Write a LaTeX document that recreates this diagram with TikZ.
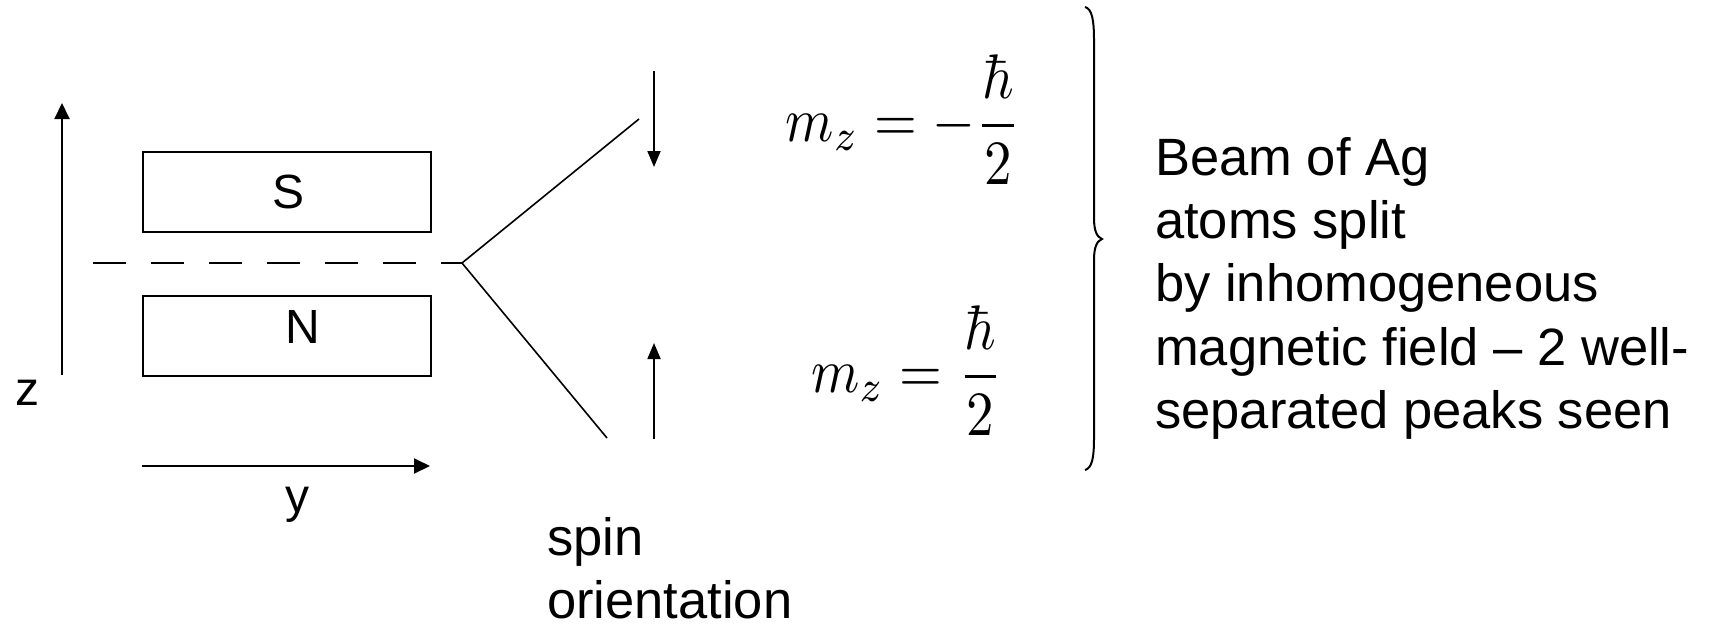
\documentclass[tikz,border=0pt]{standalone}
\usepackage[no-math]{fontspec}
\usepackage{graphicx}
\setmainfont{Liberation Sans}
\usetikzlibrary{arrows.meta}
\tikzset{
  magnet/.style={draw, line width=2pt, minimum width=288pt, minimum height=80pt, inner sep=0pt, anchor=north west},
  lbl/.style={font=\fontsize{48}{48}\selectfont, inner sep=0pt, anchor=base},
  txt/.style={font=\fontsize{52.5}{63.3}\selectfont, inner sep=0pt, align=left, anchor=north west},
  eq/.style={inner sep=0pt, anchor=base},
  axisarrow/.style={-{Triangle[length=16pt,width=15pt]}, line width=2pt},
  spinarrow/.style={-{Triangle[length=16pt,width=13pt]}, line width=1.8pt},
  beam/.style={line width=1.6pt},
  beamdash/.style={line width=1.6pt, dash pattern=on 33pt off 25pt},
}
\begin{document}
\begin{tikzpicture}[x=1pt, y=-1pt]
\useasboundingbox (0,0) rectangle (1716,626);
% axes
\coordinate (z0) at (62,375);
\coordinate (z1) at (62,103);
\coordinate (y0) at (142,466);
\coordinate (y1) at (430,466);
\draw[axisarrow] (z0) -- (z1);
\draw[axisarrow] (y0) -- (y1);
\node[lbl] (zl) at (27,405) {z};
\node[lbl] (yl) at (297,512) {y};
% magnets
\node[magnet] (S) at (142,151) {};
\node[magnet] (N) at (142,295) {};
\node[lbl] (Sl) at (289,208) {S};
\node[lbl] (Nl) at (303,343) {N};
% beam
\coordinate (b0) at (93,263);
\coordinate (J) at (462,263);
\coordinate (U) at (639,119);
\coordinate (L) at (607,438);
\draw[beamdash] (b0) -- (J);
\draw[beam] (U) -- (J) -- (L);
% spin arrows
\coordinate (d0) at (654,71);
\coordinate (d1) at (654,167);
\coordinate (u0) at (654,439);
\coordinate (u1) at (654,343);
\draw[spinarrow] (d0) -- (d1);
\draw[spinarrow] (u0) -- (u1);
% equations
\node[eq] (eq1) at (903,141) {\scalebox{5.5}[6.3]{$\displaystyle m_z = -\frac{\hbar}{2}$}};
\node[eq] (eq2) at (907,392) {\scalebox{5.5}[6.3]{$\displaystyle m_z = \frac{\hbar}{2}$}};
% brace
\draw[line width=2pt] (1085,7) .. controls (1092,9) and (1094,20) .. (1094,40)
  -- (1094,218) .. controls (1094,231) and (1097,237) .. (1102,239)
  .. controls (1097,241) and (1094,247) .. (1094,260)
  -- (1094,438) .. controls (1094,458) and (1092,468) .. (1085,470);
% texts
\node[txt] (desc) at (1155,137) {Beam of Ag\\atoms split\\by inhomogeneous\\magnetic field – 2 well-\\separated peaks seen};
\node[txt] (spin) at (547,517) {spin\\orientation};
\end{tikzpicture}
\end{document}
